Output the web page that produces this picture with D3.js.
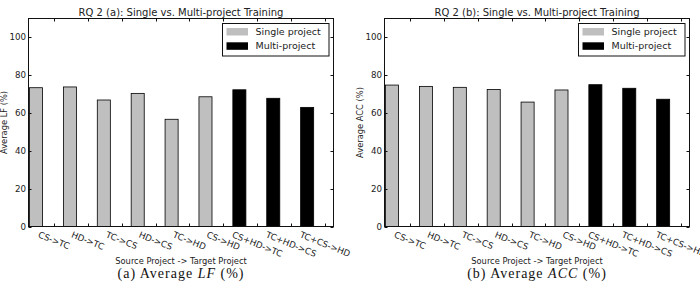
<!DOCTYPE html>
<html>
<head>
<meta charset="utf-8">
<script src="https://cdn.jsdelivr.net/npm/d3@7"></script>
<style>
  html, body { margin: 0; padding: 0; background: #fff; }
  svg { display: block; }
  text { font-family: "DejaVu Sans", sans-serif; fill: #222; }
</style>
</head>
<body>
<svg id="chart" width="700" height="289"></svg>
<script>
// ---- data ----
const categories = ["CS->TC", "HD->TC", "TC->CS", "HD->CS", "TC->HD", "CS->HD", "CS+HD->TC", "TC+HD->CS", "TC+CS->HD"];
const groups = ["Single project", "Single project", "Single project", "Single project", "Single project", "Single project", "Multi-project", "Multi-project", "Multi-project"];
const lfValues = [73.4, 73.8, 66.9, 70.4, 56.7, 68.6, 72.3, 67.8, 63.0];
const accValues = [74.8, 74.1, 73.6, 72.5, 65.8, 72.2, 75.0, 73.1, 67.3];
const yTicks = [0, 20, 40, 60, 80, 100];
const legendItems = ["Single project", "Multi-project"];
const colors = { "Single project": "#bfbfbf", "Multi-project": "#000000" };

const panels = [
  { values: lfValues, title: "RQ 2 (a): Single vs. Multi-project Training", ylabel: "Average LF (%)",
    caption: ["(a) Average ", "LF", " (%)"], left: 28.5, right: 333.5, ylabelX: 4 },
  { values: accValues, title: "RQ 2 (b): Single vs. Multi-project Training", ylabel: "Average ACC (%)",
    caption: ["(b) Average ", "ACC", " (%)"], left: 384.5, right: 689.5, ylabelX: 360 }
];

const svg = d3.select("#chart");
const plotTop = 18.5, plotBottom = 226.5;

panels.forEach(p => {
  const g = svg.append("g");
  const x = d3.scaleLinear().domain([0, 9]).range([p.left, p.right]);
  const y = d3.scaleLinear().domain([0, 110]).range([plotBottom, plotTop]);
  const barW = 0.385, tickOff = 0.75;

  // bars
  g.selectAll("rect.bar").data(p.values).enter().append("rect")
    .attr("x", (d, i) => x(i + 0.03))
    .attr("y", d => y(d))
    .attr("width", x(barW) - x(0))
    .attr("height", d => y(0) - y(d))
    .attr("fill", (d, i) => colors[groups[i]])
    .attr("stroke", "#000").attr("stroke-width", 0.8);

  // frame
  g.append("rect").attr("x", p.left).attr("y", plotTop)
    .attr("width", p.right - p.left).attr("height", plotBottom - plotTop)
    .attr("fill", "none").attr("stroke", "#111").attr("stroke-width", 1);

  // y ticks (inward, both sides)
  yTicks.forEach(t => {
    const yy = Math.round(y(t)) + 0.5;
    g.append("line").attr("x1", p.left).attr("x2", p.left + 3).attr("y1", yy).attr("y2", yy).attr("stroke", "#111");
    g.append("line").attr("x1", p.right).attr("x2", p.right - 3).attr("y1", yy).attr("y2", yy).attr("stroke", "#111");
    g.append("text").attr("x", p.left - 2.5).attr("y", y(t)).attr("dy", "0.35em")
      .attr("text-anchor", "end").attr("font-size", 8.7).text(t);
  });

  // x ticks & labels
  categories.forEach((c, i) => {
    const xx = Math.round(x(i + tickOff)) + 0.5;
    g.append("line").attr("x1", xx).attr("x2", xx).attr("y1", plotBottom).attr("y2", plotBottom - 3).attr("stroke", "#111");
    g.append("line").attr("x1", xx).attr("x2", xx).attr("y1", plotTop).attr("y2", plotTop + 3).attr("stroke", "#111");
    const t = g.append("text").attr("font-size", 8.7).attr("text-anchor", "middle")
      .attr("dominant-baseline", "central").text(c);
    const w = t.node().getComputedTextLength();
    const ang = 22;
    const a = ang * Math.PI / 180;
    const h = 8.0;
    const bh = w * Math.sin(a) + h * Math.cos(a);
    const cy = 230.5 + bh / 2;
    t.attr("transform", `translate(${x(i + tickOff)},${cy}) rotate(${ang})`);
  });

  // title
  g.append("text").attr("x", (p.left + p.right) / 2).attr("y", 15.5)
    .attr("text-anchor", "middle").attr("font-size", 10).text(p.title);

  // axis labels
  g.append("text").attr("x", (p.left + p.right) / 2).attr("y", 263.8)
    .attr("text-anchor", "middle").attr("font-size", 8.3).text("Source Project -> Target Project");
  g.append("text").attr("transform", `translate(${p.ylabelX + 3},${(plotTop + plotBottom) / 2}) rotate(-90)`)
    .attr("text-anchor", "middle").attr("font-size", 8.3).text(p.ylabel);

  // legend
  const lx = p.right - 111, ly = 23.5;
  g.append("rect").attr("x", lx).attr("y", ly).attr("width", 106.5).attr("height", 32.5)
    .attr("fill", "#fff").attr("stroke", "#111").attr("stroke-width", 1);
  legendItems.forEach((k, j) => {
    g.append("rect").attr("x", lx + 4).attr("y", ly + 4.5 + j * 14.3).attr("width", 21.5).attr("height", 7.5)
      .attr("fill", colors[k]);
    g.append("text").attr("x", lx + 33).attr("y", ly + 8.3 + j * 14.3).attr("dy", "0.35em")
      .attr("font-size", 9.5).text(k);
  });

  // caption
  const cap = g.append("text").attr("x", (p.left + p.right) / 2).attr("y", 278.3)
    .attr("text-anchor", "middle").attr("font-size", 14)
    .style("letter-spacing", "1px")
    .style("font-family", "'Liberation Serif', serif").style("fill", "#111");
  cap.append("tspan").text(p.caption[0]);
  cap.append("tspan").style("font-style", "italic").text(p.caption[1]);
  cap.append("tspan").text(p.caption[2]);
});
</script>
</body>
</html>
